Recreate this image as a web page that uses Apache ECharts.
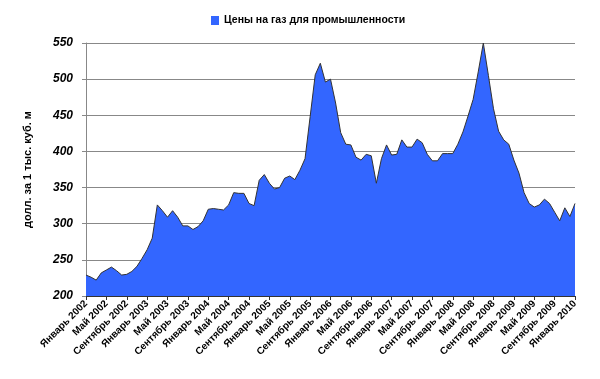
<!DOCTYPE html>
<html>
<head>
<meta charset="utf-8">
<script src="https://cdn.jsdelivr.net/npm/echarts@6/dist/echarts.min.js"></script>
<style>html,body{margin:0;padding:0;background:#fff}#c{width:600px;height:379px}</style>
</head>
<body>
<div id="c"></div>
<script>
const monthNames = ['Январь','Февраль','Март','Апрель','Май','Июнь','Июль','Август','Сентябрь','Октябрь','Ноябрь','Декабрь'];
const startYear = 2002;
const monthCount = 97;
const seriesName = 'Цены на газ для промышленности';
const yAxisName = 'долл. за 1 тыс. куб. м';
const prices = [
  229,226,222,232,236,240,235,229,230,234,241,252,
  264,280,326,318,309,318,309,297,297,292,296,304,
  320,321,320,319,326,343,342,342,328,325,360,368,
  356,348,350,363,366,361,374,390,448,506,522,496,
  500,467,426,410,409,392,388,396,394,356,390,409,
  395,396,416,406,406,417,412,396,387,387,397,397,
  397,410,427,449,472,510,550,505,459,428,416,410,
  388,370,343,328,323,326,334,328,316,304,322,310,
  328
];
const categories = [];
for (let i = 0; i < monthCount; i++) {
  categories.push(monthNames[i % 12] + ' ' + (startYear + Math.floor(i / 12)));
}
const chart = echarts.init(document.getElementById('c'));
chart.setOption({
  animation: false,
  legend: {
    data: [seriesName],
    left: 206, top: 10,
    icon: 'rect', itemWidth: 8, itemHeight: 9, itemGap: 3,
    textStyle: {fontFamily: 'Liberation Sans', fontWeight: 'bold', fontSize: 10.5, color: '#000'}
  },
  grid: {left: 86, right: 25, top: 43, bottom: 83},
  xAxis: {
    type: 'category',
    data: categories,
    boundaryGap: false,
    axisLine: {lineStyle: {color: '#333', width: 1}},
    axisTick: {interval: 3, length: 4, lineStyle: {color: '#333'}},
    axisLabel: {
      interval: 3, rotate: 45, margin: 6,
      fontFamily: 'Liberation Sans', fontWeight: 'bold', fontSize: 10, color: '#000'
    },
    splitLine: {show: false}
  },
  yAxis: {
    type: 'value',
    min: 200, max: 550, interval: 50,
    name: yAxisName,
    nameLocation: 'middle',
    nameGap: 53,
    nameTextStyle: {fontFamily: 'Liberation Sans', fontWeight: 'bold', fontSize: 11, color: '#000'},
    axisLine: {show: true, lineStyle: {color: '#888'}},
    axisTick: {show: true, length: 4, lineStyle: {color: '#888'}},
    axisLabel: {fontFamily: 'Liberation Sans', fontWeight: 'bold', fontStyle: 'italic', fontSize: 12, color: '#000', margin: 13},
    splitLine: {lineStyle: {color: '#888', width: 1}}
  },
  series: [{
    name: seriesName,
    type: 'line',
    data: prices,
    showSymbol: false,
    symbol: 'none',
    lineStyle: {color: '#333', width: 1},
    itemStyle: {color: '#3366ff'},
    areaStyle: {color: '#3366ff', opacity: 1}
  }]
});
</script>
</body>
</html>
